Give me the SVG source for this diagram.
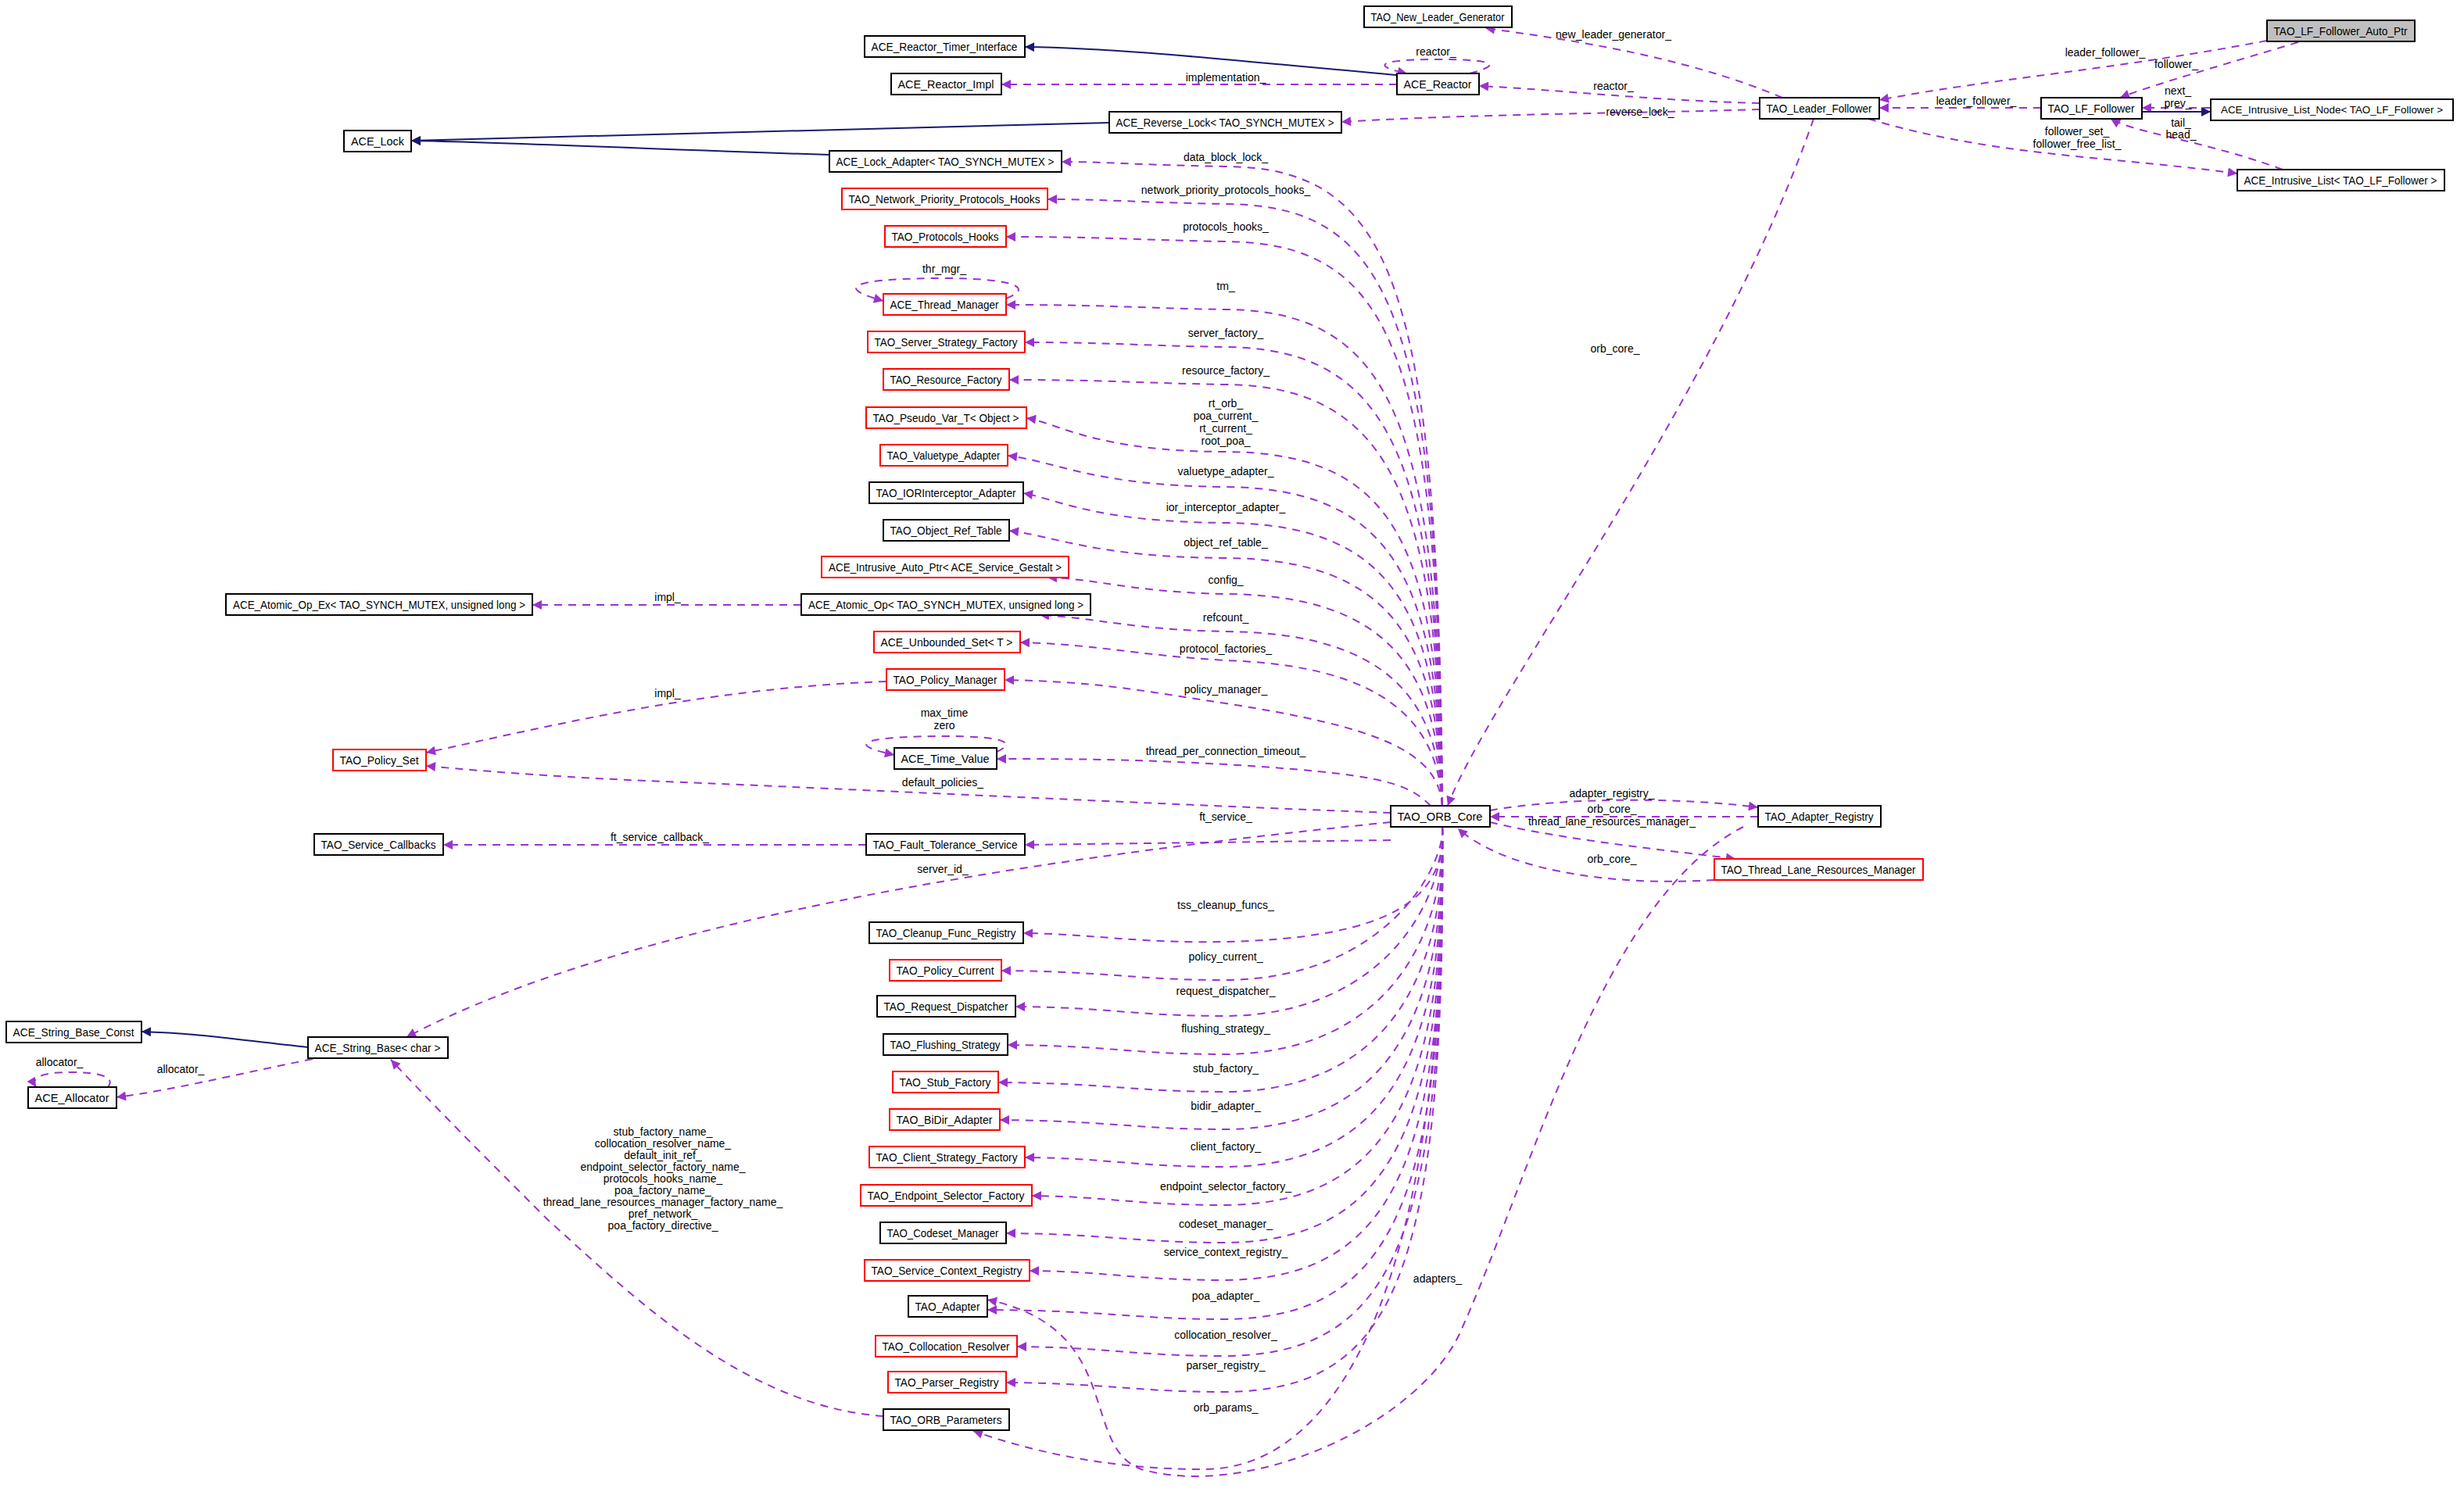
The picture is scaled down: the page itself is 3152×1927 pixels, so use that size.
<svg xmlns="http://www.w3.org/2000/svg" width="3152" height="1927" viewBox="0 0 3152 1927">
<style>
.e{fill:none;stroke:#9a32cd;stroke-width:2;stroke-dasharray:10,8}
.i{fill:none;stroke:#191970;stroke-width:2}
rect{fill:#fff;stroke:#000;stroke-width:2}
rect.r{stroke:#f00}
rect.g{fill:#bfbfbf}
text{font-family:"Liberation Sans",Arial,sans-serif;font-size:14px;fill:#000;text-anchor:middle}
g[id^="n"] text{font-size:15px}
g#n8 text{font-size:13px}
</style>
<defs>
<marker id="pa" viewBox="0 0 10 10" refX="10" refY="5" markerWidth="16" markerHeight="12" markerUnits="userSpaceOnUse" orient="auto"><path d="M0,0 L10,5 L0,10 z" fill="#9a32cd"/></marker>
<marker id="na" viewBox="0 0 10 10" refX="10" refY="5" markerWidth="16" markerHeight="12" markerUnits="userSpaceOnUse" orient="auto"><path d="M0,0 L10,5 L0,10 z" fill="#191970"/></marker>
</defs>
<rect x="0" y="0" width="3152" height="1927" style="fill:#fff;stroke:none"/>
<g id="connectors">
<path class="e" marker-end="url(#pa)" d="M2900,52 C2700,90 2550,100 2404,128"/>
<text x="2693" y="72">leader_follower_</text>
<path class="e" marker-end="url(#pa)" d="M2940,54 C2820,90 2750,110 2712,125"/>
<text x="2784" y="87">follower_</text>
<path class="e" marker-end="url(#pa)" d="M2280,125 C2150,70 2000,50 1900,36"/>
<text x="2064" y="49">new_leader_generator_</text>
<path class="e" marker-end="url(#pa)" d="M2251,132 C2100,128 2000,115 1892,110"/>
<text x="2064" y="115">reactor_</text>
<path class="e" marker-end="url(#pa)" d="M2251,140 C2100,145 1900,145 1716,156"/>
<text x="2098" y="148">reverse_lock_</text>
<path class="e" marker-end="url(#pa)" d="M2611,138 L2404,138"/>
<text x="2528" y="134">leader_follower_</text>
<path class="e" marker-end="url(#pa)" d="M2828,138 L2740,138"/>
<text x="2786" y="121">next_</text>
<text x="2786" y="137">prev_</text>
<path class="i" marker-end="url(#na)" d="M2740,143 L2828,143"/>
<path class="e" marker-end="url(#pa)" d="M2920,217 C2820,180 2730,170 2700,152"/>
<text x="2790" y="162">tail_</text>
<text x="2790" y="177">head_</text>
<path class="e" marker-end="url(#pa)" d="M2390,152 C2550,200 2700,200 2862,222"/>
<text x="2657" y="173">follower_set_</text>
<text x="2657" y="189">follower_free_list_</text>
<path class="e" marker-end="url(#pa)" d="M2320,152 C2200,500 1900,900 1852,1031"/>
<text x="2066" y="451">orb_core_</text>
<path class="i" marker-end="url(#na)" d="M1787,96 C1600,80 1450,62 1311,60"/>
<path class="e" marker-end="url(#pa)" d="M1787,108 L1281,108"/>
<text x="1568" y="104">implementation_</text>
<path class="e" marker-end="url(#pa)" d="M1880,94 C1925,82 1910,76 1837,76 C1760,76 1755,85 1800,94"/>
<text x="1837" y="71">reactor_</text>
<path class="i" marker-end="url(#na)" d="M1419,157 C1000,165 700,178 526,180"/>
<path class="i" marker-end="url(#na)" d="M1061,198 C800,190 650,182 526,180"/>
<path class="e" marker-end="url(#pa)" d="M1845,1031 C1840,360 1780,215 1568,213 C1450,211 1420,207 1358,207"/>
<text x="1568" y="206">data_block_lock_</text>
<path class="e" marker-end="url(#pa)" d="M1845,1031 C1840,400 1780,263 1568,261 C1450,259 1420,255 1340,255"/>
<text x="1568" y="248">network_priority_protocols_hooks_</text>
<path class="e" marker-end="url(#pa)" d="M1845,1031 C1840,450 1780,311 1568,309 C1450,307 1420,303 1287,303"/>
<text x="1568" y="295">protocols_hooks_</text>
<path class="e" marker-end="url(#pa)" d="M1845,1031 C1840,540 1780,398 1568,396 C1450,394 1420,390 1287,390"/>
<text x="1568" y="371">tm_</text>
<path class="e" marker-end="url(#pa)" d="M1845,1031 C1840,590 1780,446 1568,444 C1450,442 1420,438 1311,438"/>
<text x="1568" y="431">server_factory_</text>
<path class="e" marker-end="url(#pa)" d="M1845,1031 C1840,640 1780,494 1568,492 C1450,490 1420,486 1291,486"/>
<text x="1568" y="479">resource_factory_</text>
<path class="e" marker-end="url(#pa)" d="M1845,1031 C1840,690 1780,580 1568,578 C1400,578 1350,540 1313,535"/>
<text x="1568" y="521">rt_orb_</text>
<text x="1568" y="537">poa_current_</text>
<text x="1568" y="553">rt_current_</text>
<text x="1568" y="569">root_poa_</text>
<path class="e" marker-end="url(#pa)" d="M1845,1031 C1840,740 1780,625 1568,623 C1400,622 1350,590 1289,583"/>
<text x="1568" y="608">valuetype_adapter_</text>
<path class="e" marker-end="url(#pa)" d="M1845,1031 C1840,780 1780,671 1568,669 C1400,668 1350,638 1309,631"/>
<text x="1568" y="654">ior_interceptor_adapter_</text>
<path class="e" marker-end="url(#pa)" d="M1845,1031 C1840,820 1780,716 1568,714 C1400,713 1350,686 1291,679"/>
<text x="1568" y="699">object_ref_table_</text>
<path class="e" marker-end="url(#pa)" d="M1845,1031 C1840,860 1780,762 1568,760 C1450,758 1400,740 1340,739"/>
<text x="1568" y="747">config_</text>
<path class="e" marker-end="url(#pa)" d="M1845,1031 C1840,900 1780,810 1568,808 C1450,806 1400,790 1330,787"/>
<text x="1568" y="795">refcount_</text>
<path class="e" marker-end="url(#pa)" d="M1845,1031 C1840,930 1780,852 1568,845 C1450,838 1400,824 1305,822"/>
<text x="1568" y="835">protocol_factories_</text>
<path class="e" marker-end="url(#pa)" d="M1845,1031 C1840,960 1760,930 1568,900 C1450,882 1400,872 1285,870"/>
<text x="1568" y="887">policy_manager_</text>
<path class="e" marker-end="url(#pa)" d="M1830,1031 C1800,1000 1760,990 1568,978 C1450,972 1400,971 1275,971"/>
<text x="1568" y="966">thread_per_connection_timeout_</text>
<path class="e" marker-end="url(#pa)" d="M1275,962 C1310,946 1260,942 1208,942 C1120,942 1070,950 1144,966"/>
<text x="1208" y="917">max_time</text>
<text x="1208" y="933">zero</text>
<path class="e" marker-end="url(#pa)" d="M1779,1040 C1500,1030 1100,1010 850,1000 C700,994 600,985 545,980"/>
<text x="1206" y="1006">default_policies_</text>
<path class="e" marker-end="url(#pa)" d="M1134,872 C900,880 700,930 545,963"/>
<text x="854" y="892">impl_</text>
<path class="e" marker-end="url(#pa)" d="M1025,774 L681,774"/>
<text x="854" y="769">impl_</text>
<path class="e" marker-end="url(#pa)" d="M1779,1075 L1311,1081"/>
<text x="1568" y="1050">ft_service_</text>
<path class="e" marker-end="url(#pa)" d="M1108,1081 L567,1081"/>
<text x="844" y="1076">ft_service_callback_</text>
<path class="e" marker-end="url(#pa)" d="M1779,1052 C1300,1100 800,1180 520,1327"/>
<text x="1206" y="1117">server_id_</text>
<path class="e" marker-end="url(#pa)" d="M1845,1058 C1850,1150 1780,1200 1568,1205 C1450,1207 1400,1195 1309,1194"/>
<text x="1568" y="1163">tss_cleanup_funcs_</text>
<path class="e" marker-end="url(#pa)" d="M1845,1058 C1850,1100 1780,1252 1568,1254 C1450,1254 1420,1243 1281,1242"/>
<text x="1568" y="1229">policy_current_</text>
<path class="e" marker-end="url(#pa)" d="M1845,1058 C1850,1140 1780,1298 1568,1300 C1450,1300 1420,1289 1299,1288"/>
<text x="1568" y="1273">request_dispatcher_</text>
<path class="e" marker-end="url(#pa)" d="M1845,1058 C1850,1190 1780,1347 1568,1349 C1450,1349 1420,1338 1289,1337"/>
<text x="1568" y="1321">flushing_strategy_</text>
<path class="e" marker-end="url(#pa)" d="M1845,1058 C1850,1240 1780,1395 1568,1397 C1450,1397 1420,1386 1277,1385"/>
<text x="1568" y="1372">stub_factory_</text>
<path class="e" marker-end="url(#pa)" d="M1845,1058 C1850,1290 1780,1443 1568,1445 C1450,1445 1420,1434 1279,1433"/>
<text x="1568" y="1420">bidir_adapter_</text>
<path class="e" marker-end="url(#pa)" d="M1845,1058 C1850,1340 1780,1491 1568,1493 C1450,1493 1420,1482 1311,1481"/>
<text x="1568" y="1472">client_factory_</text>
<path class="e" marker-end="url(#pa)" d="M1845,1058 C1850,1390 1780,1540 1568,1542 C1450,1542 1420,1531 1320,1530"/>
<text x="1568" y="1523">endpoint_selector_factory_</text>
<path class="e" marker-end="url(#pa)" d="M1845,1058 C1850,1440 1780,1588 1568,1590 C1450,1590 1420,1579 1287,1578"/>
<text x="1568" y="1571">codeset_manager_</text>
<path class="e" marker-end="url(#pa)" d="M1845,1058 C1850,1490 1780,1636 1568,1638 C1450,1638 1420,1627 1317,1626"/>
<text x="1568" y="1607">service_context_registry_</text>
<path class="e" marker-end="url(#pa)" d="M1845,1058 C1850,1540 1780,1686 1568,1688 C1450,1688 1420,1677 1263,1676"/>
<text x="1568" y="1663">poa_adapter_</text>
<path class="e" marker-end="url(#pa)" d="M1845,1058 C1850,1590 1780,1733 1568,1735 C1450,1735 1420,1724 1301,1723"/>
<text x="1568" y="1713">collocation_resolver_</text>
<path class="e" marker-end="url(#pa)" d="M1845,1058 C1850,1640 1780,1779 1568,1781 C1450,1781 1420,1770 1287,1769"/>
<text x="1568" y="1752">parser_registry_</text>
<path class="e" marker-end="url(#pa)" d="M1845,1058 C1850,1620 1720,1880 1540,1880 C1400,1880 1300,1850 1245,1831"/>
<text x="1568" y="1806">orb_params_</text>
<path class="e" marker-end="url(#pa)" d="M1906,1037 C2000,1020 2150,1020 2249,1033"/>
<text x="2062" y="1020">adapter_registry_</text>
<path class="e" marker-end="url(#pa)" d="M2249,1045 L1906,1045"/>
<text x="2062" y="1040">orb_core_</text>
<path class="e" marker-end="url(#pa)" d="M1906,1052 C2000,1075 2150,1090 2220,1099"/>
<text x="2062" y="1056">thread_lane_resources_manager_</text>
<path class="e" marker-end="url(#pa)" d="M2193,1126 C2050,1135 1920,1110 1865,1060"/>
<text x="2062" y="1104">orb_core_</text>
<path class="e" marker-end="url(#pa)" d="M2230,1058 C2050,1150 1960,1500 1870,1700 C1820,1820 1600,1920 1460,1880 C1380,1850 1440,1700 1263,1663"/>
<text x="1839" y="1641">adapters_</text>
<path class="e" marker-end="url(#pa)" d="M1130,1812 C950,1800 800,1650 700,1560 C620,1480 560,1420 500,1356"/>
<text x="848" y="1453">stub_factory_name_</text>
<text x="848" y="1468">collocation_resolver_name_</text>
<text x="848" y="1483">default_init_ref_</text>
<text x="848" y="1498">endpoint_selector_factory_name_</text>
<text x="848" y="1513">protocols_hooks_name_</text>
<text x="848" y="1528">poa_factory_name_</text>
<text x="848" y="1543">thread_lane_resources_manager_factory_name_</text>
<text x="848" y="1558">pref_network_</text>
<text x="848" y="1573">poa_factory_directive_</text>
<path class="i" marker-end="url(#na)" d="M394,1340 C300,1330 250,1322 181,1320"/>
<path class="e" marker-end="url(#pa)" d="M400,1355 C300,1375 220,1395 149,1404"/>
<text x="231" y="1373">allocator_</text>
<path class="e" marker-end="url(#pa)" d="M138,1391 C150,1376 120,1372 90,1372 C55,1372 38,1378 46,1391"/>
<text x="76" y="1364">allocator_</text>
<path class="e" marker-end="url(#pa)" d="M1287,382 C1330,365 1280,356 1208,356 C1100,356 1060,366 1130,385"/>
<text x="1208" y="349">thr_mgr_</text>
</g>
<g id="n1"><rect class="g" x="2900" y="26" width="189" height="27"/><text x="2994" y="45" textLength="171" lengthAdjust="spacingAndGlyphs">TAO_LF_Follower_Auto_Ptr</text></g>
<g id="n2"><rect x="1745" y="8" width="189" height="27"/><text x="1839" y="27" textLength="171" lengthAdjust="spacingAndGlyphs">TAO_New_Leader_Generator</text></g>
<g id="n3"><rect x="1106" y="46" width="205" height="27"/><text x="1208" y="65" textLength="187" lengthAdjust="spacingAndGlyphs">ACE_Reactor_Timer_Interface</text></g>
<g id="n4"><rect x="1140" y="94" width="141" height="27"/><text x="1210" y="113" textLength="123" lengthAdjust="spacingAndGlyphs">ACE_Reactor_Impl</text></g>
<g id="n5"><rect x="1787" y="94" width="105" height="27"/><text x="1839" y="113" textLength="87" lengthAdjust="spacingAndGlyphs">ACE_Reactor</text></g>
<g id="n6"><rect x="2251" y="125" width="153" height="27"/><text x="2327" y="144" textLength="135" lengthAdjust="spacingAndGlyphs">TAO_Leader_Follower</text></g>
<g id="n7"><rect x="2611" y="125" width="129" height="27"/><text x="2675" y="144" textLength="111" lengthAdjust="spacingAndGlyphs">TAO_LF_Follower</text></g>
<g id="n8"><rect x="2828" y="127" width="310" height="27"/><text x="2983" y="145" textLength="284" lengthAdjust="spacingAndGlyphs">ACE_Intrusive_List_Node&lt; TAO_LF_Follower &gt;</text></g>
<g id="n9"><rect x="2862" y="217" width="265" height="27"/><text x="2994" y="236" textLength="247" lengthAdjust="spacingAndGlyphs">ACE_Intrusive_List&lt; TAO_LF_Follower &gt;</text></g>
<g id="n10"><rect x="1419" y="143" width="297" height="27"/><text x="1567" y="162" textLength="279" lengthAdjust="spacingAndGlyphs">ACE_Reverse_Lock&lt; TAO_SYNCH_MUTEX &gt;</text></g>
<g id="n11"><rect x="440" y="167" width="86" height="27"/><text x="483" y="186" textLength="68" lengthAdjust="spacingAndGlyphs">ACE_Lock</text></g>
<g id="n12"><rect x="1061" y="193" width="297" height="27"/><text x="1209" y="212" textLength="279" lengthAdjust="spacingAndGlyphs">ACE_Lock_Adapter&lt; TAO_SYNCH_MUTEX &gt;</text></g>
<g id="n13"><rect class="r" x="1077" y="241" width="263" height="27"/><text x="1208" y="260" textLength="245" lengthAdjust="spacingAndGlyphs">TAO_Network_Priority_Protocols_Hooks</text></g>
<g id="n14"><rect class="r" x="1132" y="289" width="155" height="27"/><text x="1209" y="308" textLength="137" lengthAdjust="spacingAndGlyphs">TAO_Protocols_Hooks</text></g>
<g id="n15"><rect class="r" x="1130" y="376" width="157" height="27"/><text x="1208" y="395" textLength="139" lengthAdjust="spacingAndGlyphs">ACE_Thread_Manager</text></g>
<g id="n16"><rect class="r" x="1110" y="424" width="201" height="27"/><text x="1210" y="443" textLength="183" lengthAdjust="spacingAndGlyphs">TAO_Server_Strategy_Factory</text></g>
<g id="n17"><rect class="r" x="1130" y="472" width="161" height="27"/><text x="1210" y="491" textLength="143" lengthAdjust="spacingAndGlyphs">TAO_Resource_Factory</text></g>
<g id="n18"><rect class="r" x="1108" y="521" width="205" height="27"/><text x="1210" y="540" textLength="187" lengthAdjust="spacingAndGlyphs">TAO_Pseudo_Var_T&lt; Object &gt;</text></g>
<g id="n19"><rect class="r" x="1126" y="569" width="163" height="27"/><text x="1207" y="588" textLength="145" lengthAdjust="spacingAndGlyphs">TAO_Valuetype_Adapter</text></g>
<g id="n20"><rect x="1112" y="617" width="197" height="27"/><text x="1210" y="636" textLength="179" lengthAdjust="spacingAndGlyphs">TAO_IORInterceptor_Adapter</text></g>
<g id="n21"><rect x="1130" y="665" width="161" height="27"/><text x="1210" y="684" textLength="143" lengthAdjust="spacingAndGlyphs">TAO_Object_Ref_Table</text></g>
<g id="n22"><rect class="r" x="1051" y="712" width="316" height="27"/><text x="1209" y="731" textLength="298" lengthAdjust="spacingAndGlyphs">ACE_Intrusive_Auto_Ptr&lt; ACE_Service_Gestalt &gt;</text></g>
<g id="n23"><rect x="1025" y="760" width="370" height="27"/><text x="1210" y="779" textLength="352" lengthAdjust="spacingAndGlyphs">ACE_Atomic_Op&lt; TAO_SYNCH_MUTEX, unsigned long &gt;</text></g>
<g id="n24"><rect x="289" y="760" width="392" height="27"/><text x="485" y="779" textLength="374" lengthAdjust="spacingAndGlyphs">ACE_Atomic_Op_Ex&lt; TAO_SYNCH_MUTEX, unsigned long &gt;</text></g>
<g id="n25"><rect class="r" x="1118" y="808" width="187" height="27"/><text x="1211" y="827" textLength="169" lengthAdjust="spacingAndGlyphs">ACE_Unbounded_Set&lt; T &gt;</text></g>
<g id="n26"><rect class="r" x="1134" y="856" width="151" height="27"/><text x="1209" y="875" textLength="133" lengthAdjust="spacingAndGlyphs">TAO_Policy_Manager</text></g>
<g id="n27"><rect class="r" x="426" y="959" width="119" height="27"/><text x="485" y="978" textLength="101" lengthAdjust="spacingAndGlyphs">TAO_Policy_Set</text></g>
<g id="n28"><rect x="1144" y="957" width="131" height="27"/><text x="1209" y="976" textLength="113" lengthAdjust="spacingAndGlyphs">ACE_Time_Value</text></g>
<g id="n29"><rect x="1779" y="1031" width="127" height="27"/><text x="1842" y="1050" textLength="109" lengthAdjust="spacingAndGlyphs">TAO_ORB_Core</text></g>
<g id="n30"><rect x="2249" y="1031" width="157" height="27"/><text x="2327" y="1050" textLength="139" lengthAdjust="spacingAndGlyphs">TAO_Adapter_Registry</text></g>
<g id="n31"><rect class="r" x="2193" y="1099" width="267" height="27"/><text x="2326" y="1118" textLength="249" lengthAdjust="spacingAndGlyphs">TAO_Thread_Lane_Resources_Manager</text></g>
<g id="n32"><rect x="402" y="1067" width="165" height="27"/><text x="484" y="1086" textLength="147" lengthAdjust="spacingAndGlyphs">TAO_Service_Callbacks</text></g>
<g id="n33"><rect x="1108" y="1067" width="203" height="27"/><text x="1209" y="1086" textLength="185" lengthAdjust="spacingAndGlyphs">TAO_Fault_Tolerance_Service</text></g>
<g id="n34"><rect x="1112" y="1180" width="197" height="27"/><text x="1210" y="1199" textLength="179" lengthAdjust="spacingAndGlyphs">TAO_Cleanup_Func_Registry</text></g>
<g id="n35"><rect class="r" x="1138" y="1228" width="143" height="27"/><text x="1209" y="1247" textLength="125" lengthAdjust="spacingAndGlyphs">TAO_Policy_Current</text></g>
<g id="n36"><rect x="1122" y="1274" width="177" height="27"/><text x="1210" y="1293" textLength="159" lengthAdjust="spacingAndGlyphs">TAO_Request_Dispatcher</text></g>
<g id="n37"><rect x="1130" y="1323" width="159" height="27"/><text x="1209" y="1342" textLength="141" lengthAdjust="spacingAndGlyphs">TAO_Flushing_Strategy</text></g>
<g id="n38"><rect class="r" x="1142" y="1371" width="135" height="27"/><text x="1209" y="1390" textLength="117" lengthAdjust="spacingAndGlyphs">TAO_Stub_Factory</text></g>
<g id="n39"><rect class="r" x="1138" y="1419" width="141" height="27"/><text x="1208" y="1438" textLength="123" lengthAdjust="spacingAndGlyphs">TAO_BiDir_Adapter</text></g>
<g id="n40"><rect class="r" x="1112" y="1467" width="199" height="27"/><text x="1211" y="1486" textLength="181" lengthAdjust="spacingAndGlyphs">TAO_Client_Strategy_Factory</text></g>
<g id="n41"><rect class="r" x="1101" y="1516" width="219" height="27"/><text x="1210" y="1535" textLength="201" lengthAdjust="spacingAndGlyphs">TAO_Endpoint_Selector_Factory</text></g>
<g id="n42"><rect x="1126" y="1564" width="161" height="27"/><text x="1206" y="1583" textLength="143" lengthAdjust="spacingAndGlyphs">TAO_Codeset_Manager</text></g>
<g id="n43"><rect class="r" x="1106" y="1612" width="211" height="27"/><text x="1211" y="1631" textLength="193" lengthAdjust="spacingAndGlyphs">TAO_Service_Context_Registry</text></g>
<g id="n44"><rect x="1162" y="1658" width="101" height="27"/><text x="1212" y="1677" textLength="83" lengthAdjust="spacingAndGlyphs">TAO_Adapter</text></g>
<g id="n45"><rect class="r" x="1120" y="1709" width="181" height="27"/><text x="1210" y="1728" textLength="163" lengthAdjust="spacingAndGlyphs">TAO_Collocation_Resolver</text></g>
<g id="n46"><rect class="r" x="1136" y="1755" width="151" height="27"/><text x="1211" y="1774" textLength="133" lengthAdjust="spacingAndGlyphs">TAO_Parser_Registry</text></g>
<g id="n47"><rect x="1130" y="1803" width="161" height="27"/><text x="1210" y="1822" textLength="143" lengthAdjust="spacingAndGlyphs">TAO_ORB_Parameters</text></g>
<g id="n48"><rect x="8" y="1307" width="173" height="27"/><text x="94" y="1326" textLength="155" lengthAdjust="spacingAndGlyphs">ACE_String_Base_Const</text></g>
<g id="n49"><rect x="394" y="1327" width="179" height="27"/><text x="483" y="1346" textLength="161" lengthAdjust="spacingAndGlyphs">ACE_String_Base&lt; char &gt;</text></g>
<g id="n50"><rect x="36" y="1391" width="113" height="27"/><text x="92" y="1410" textLength="95" lengthAdjust="spacingAndGlyphs">ACE_Allocator</text></g>
</svg>
